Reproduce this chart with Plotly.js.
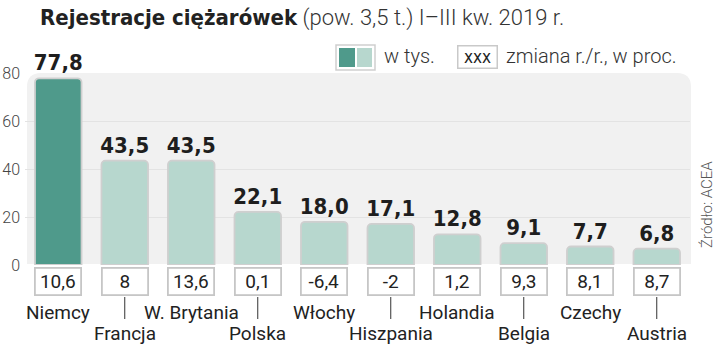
<!DOCTYPE html>
<html>
<head>
<meta charset="utf-8">
<script src="https://cdn.plot.ly/plotly-3.0.1.min.js"></script>
<style>html,body{margin:0;padding:0;background:#fff;}#chart{width:720px;height:346px;}</style>
</head>
<body>
<div id="chart"></div>
<script>
// ---- data ----
const countries = ["Niemcy","Francja","W. Brytania","Polska","Włochy","Hiszpania","Holandia","Belgia","Czechy","Austria"];
const registrations = [77.8, 43.5, 43.5, 22.1, 18.0, 17.1, 12.8, 9.1, 7.7, 6.8];
const changes = [10.6, 8, 13.6, 0.1, -6.4, -2, 1.2, 9.3, 8.1, 8.7];
const yTicks = [0, 20, 40, 60, 80];

// ---- geometry helpers (pixel -> paper) ----
const M = {l: 25, r: 30, t: 73, b: 81};
const W = 720, H = 346;
const PW = W - M.l - M.r, PH = H - M.t - M.b;
const px = x => (x - M.l) / PW;
const py = y => (H - M.b - y) / PH;

const DARK = '#4f9a8b', LIGHT = '#b7d7ce';
const bodyFont = 'Roboto, "Open Sans", sans-serif';
const condFont = '"DejaVu Sans Condensed", "DejaVu Sans", sans-serif';

const fmt = v => String(v).replace('.', ',');

const trace = {
  type: 'bar',
  x: countries,
  y: registrations,
  width: 0.7,
  marker: {
    color: countries.map((c, i) => i === 0 ? DARK : LIGHT),
    line: {color: '#cfcfcf', width: 1.8}
  },
  texttemplate: '%{y:.1f}',
  textposition: 'outside',
  constraintext: 'none',
  cliponaxis: false,
  textfont: {family: condFont, size: 22, color: '#1e1e1e', weight: 'bold'},
  hoverinfo: 'skip'
};

const annotations = [];
const shapes = [];

// rounded background panel
const rx = 14 / PW, ry = 14 / PH;
shapes.push({
  type: 'path', xref: 'paper', yref: 'paper', layer: 'below',
  path: `M ${px(27)},${py(264)} L ${px(27)},${1 - ry} Q ${px(27)},1 ${px(27) + rx},1 L ${px(691) - rx},1 Q ${px(691)},1 ${px(691)},${1 - ry} L ${px(691)},${py(264)} Z`,
  fillcolor: '#f1f1f1', line: {width: 0}
});

countries.forEach((c, i) => {
  // change box
  annotations.push({
    x: c, xref: 'x', y: py(281.5), yref: 'paper', yanchor: 'middle',
    text: fmt(changes[i]), showarrow: false,
    font: {family: bodyFont, size: 19, color: '#222'},
    bgcolor: '#ffffff', bordercolor: '#c6c6c6', borderwidth: 1.8, borderpad: 1,
    width: 42, height: 23
  });
  const lower = i % 2 === 1;
  annotations.push({
    x: c, xref: 'x', y: py(lower ? 333 : 312), yref: 'paper', yanchor: 'middle',
    text: c, showarrow: false,
    font: {family: bodyFont, size: 19, color: '#222'}
  });
  if (lower) {
    shapes.push({
      type: 'line', xref: 'x', yref: 'paper', x0: c, x1: c,
      y0: py(297), y1: py(319), line: {color: '#333', width: 1}
    });
  }
});

// legend
shapes.push({type: 'rect', xref: 'paper', yref: 'paper', x0: px(336), x1: px(375), y0: py(70), y1: py(45),
  fillcolor: '#ffffff', line: {color: '#cfcfcf', width: 1.5}});
shapes.push({type: 'rect', xref: 'paper', yref: 'paper', x0: px(339), x1: px(355), y0: py(67), y1: py(48),
  fillcolor: DARK, line: {width: 0}});
shapes.push({type: 'rect', xref: 'paper', yref: 'paper', x0: px(357), x1: px(372), y0: py(67), y1: py(48),
  fillcolor: LIGHT, line: {width: 0}});
annotations.push({x: px(382), xref: 'paper', xanchor: 'left', y: py(56), yref: 'paper', yanchor: 'middle',
  text: 'w tys.', showarrow: false, font: {family: bodyFont, size: 20, color: '#333', weight: 300}});
annotations.push({x: px(477), xref: 'paper', xanchor: 'center', y: py(57.5), yref: 'paper', yanchor: 'middle',
  text: 'xxx', showarrow: false, font: {family: condFont, size: 17, color: '#222'},
  bgcolor: '#ffffff', bordercolor: '#c9c9c9', borderwidth: 1.5, borderpad: 1, width: 36, height: 19});
annotations.push({x: px(504), xref: 'paper', xanchor: 'left', y: py(56), yref: 'paper', yanchor: 'middle',
  text: 'zmiana r./r., w proc.', showarrow: false, font: {family: bodyFont, size: 20, color: '#333', weight: 300}});

// source
annotations.push({x: px(707), xref: 'paper', y: py(205), yref: 'paper', xanchor: 'center', yanchor: 'middle',
  text: 'Źródło: ACEA', textangle: -90, showarrow: false,
  font: {family: bodyFont, size: 15, color: '#555', weight: 300}});

const layout = {
  width: W, height: H,
  margin: M,
  paper_bgcolor: '#ffffff',
  plot_bgcolor: 'rgba(0,0,0,0)',
  separators: ', ',
  showlegend: false,
  barcornerradius: 4,
  title: {
    text: '<span style="font-family:DejaVu Sans Condensed;font-weight:bold;font-size:22px;color:#222">Rejestracje ciężarówek</span> (pow. 3,5 t.) I–III kw. 2019 r.',
    font: {family: bodyFont, size: 22, color: '#333', weight: 300},
    xref: 'container', x: 40 / W, xanchor: 'left',
    yref: 'container', y: 1 - 17 / H, yanchor: 'middle'
  },
  xaxis: {
    type: 'category', range: [-0.5, 9.5],
    showticklabels: false, showgrid: false, zeroline: false, showline: false, ticks: ''
  },
  yaxis: {
    range: [0, 80], tickvals: yTicks, ticktext: yTicks.map(String),
    showgrid: true, gridcolor: '#e3e3e3', gridwidth: 1,
    zeroline: false, showline: false, ticks: '',
    tickfont: {family: bodyFont, size: 16, color: '#444', weight: 300},
    ticklabelstandoff: 4
  },
  shapes: shapes,
  annotations: annotations
};

Plotly.newPlot('chart', [trace], layout, {staticPlot: true, displayModeBar: false});
</script>
</body>
</html>
